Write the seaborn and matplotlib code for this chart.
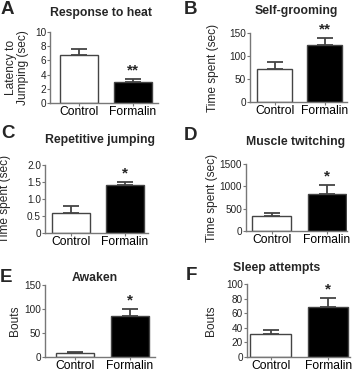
import numpy as np
import matplotlib
matplotlib.use('Agg')
import matplotlib.pyplot as plt
import seaborn as sns

groups = ['Control', 'Formalin']

heat_mean = [6.7, 2.9]
heat_sem = [0.9, 0.5]
groom_mean = [72, 125]
groom_sem = [14, 15]
jump_mean = [0.58, 1.4]
jump_sem = [0.22, 0.1]
twitch_mean = [340, 830]
twitch_sem = [70, 200]
awaken_mean = [9, 85]
awaken_sem = [1.5, 15]
sleep_mean = [31, 69]
sleep_sem = [6, 12]

titles = ['Response to heat', 'Self-grooming', 'Repetitive jumping',
          'Muscle twitching', 'Awaken', 'Sleep attempts']
letters = ['A', 'B', 'C', 'D', 'E', 'F']
ylabels = ['Latency to\nJumping (sec)', 'Time spent (sec)', 'Time spent (sec)',
           'Time spent (sec)', 'Bouts', 'Bouts']
stars = ['**', '**', '*', '*', '*', '*']
yticks = [[0, 2, 4, 6, 8, 10], [0, 50, 100, 150], [0, 0.5, 1.0, 1.5, 2.0],
          [0, 500, 1000, 1500], [0, 50, 100, 150], [0, 20, 40, 60, 80, 100]]
yticklabels = [None, None, ['0', '0.5', '1.0', '1.5', '2.0'], None, None, None]

sns.set_style('ticks')
plt.rcParams['font.family'] = ['Liberation Sans', 'DejaVu Sans']

W, H = 358, 373
fig = plt.figure(figsize=(W / 100, H / 100), dpi=100)

# axes boxes in pixels: left, right, top, bottom
boxes = [(50, 158, 32, 103), (250, 347, 33, 102), (45, 148, 165, 233),
         (246, 347, 164, 231), (45, 155, 285, 357), (247, 350, 284, 357)]
xlims = [(-0.53, 1.47), (-0.49, 1.45), (-0.48, 1.43),
         (-0.46, 1.36), (-0.55, 1.46), (-0.41, 1.38)]
title_pos = [(101, 13), (296, 11), (100, 140), (296, 142), (95, 278), (277, 268)]
letter_pos = [(1, 9), (184, 9), (1, 134), (184, 135), (0, 278), (186, 276)]
ylabel_x = [17, 213, 5, 212, 15, 211]

means = [heat_mean, groom_mean, jump_mean, twitch_mean, awaken_mean, sleep_mean]
sems = [heat_sem, groom_sem, jump_sem, twitch_sem, awaken_sem, sleep_sem]

spine_col = '#777777'
for i in range(6):
    l, r, t, b = boxes[i]
    ax = fig.add_axes([l / W, 1 - b / H, (r - l) / W, (b - t) / H])
    sns.barplot(x=groups, y=means[i], hue=groups, palette=['white', 'black'],
                edgecolor='#444444', linewidth=1, width=0.7, errorbar=None,
                legend=False, ax=ax)
    ax.errorbar([0, 1], means[i], yerr=[[0, 0], sems[i]], fmt='none',
                ecolor='#444444', elinewidth=1.3, capsize=5.5, capthick=1.3)
    ax.annotate(stars[i], (1, means[i][1] + sems[i][1]), xytext=(0, 1),
                textcoords='offset points', ha='center', va='bottom',
                fontsize=11, fontweight='bold')
    ax.set_xlim(*xlims[i])
    ax.set_ylim(0, yticks[i][-1])
    ax.set_yticks(yticks[i])
    if yticklabels[i]:
        ax.set_yticklabels(yticklabels[i])
    sns.despine(ax=ax)
    for s in ['left', 'bottom']:
        ax.spines[s].set_color(spine_col)
        ax.spines[s].set_linewidth(1)
    ax.tick_params(axis='y', labelsize=7.2, length=2, width=0.8, pad=0.8,
                   color=spine_col, labelcolor='#222222')
    ax.tick_params(axis='x', labelsize=8.7, length=2, width=0.8, pad=0.5,
                   color=spine_col, labelcolor='black')
    ax.set_xlabel('')
    ax.set_ylabel(ylabels[i], fontsize=8.6, linespacing=1.0, va='center')
    ax.yaxis.set_label_coords((ylabel_x[i] - l) / (r - l), 0.5)
    tx, ty = title_pos[i]
    fig.text(tx / W, 1 - ty / H, titles[i], ha='center', va='center',
             fontsize=8.8, fontweight='bold')
    lx, ly = letter_pos[i]
    fig.text(lx / W, 1 - ly / H, letters[i], ha='left', va='center',
             fontsize=13.5, fontweight='bold')

fig.savefig('out.png', dpi=100)
